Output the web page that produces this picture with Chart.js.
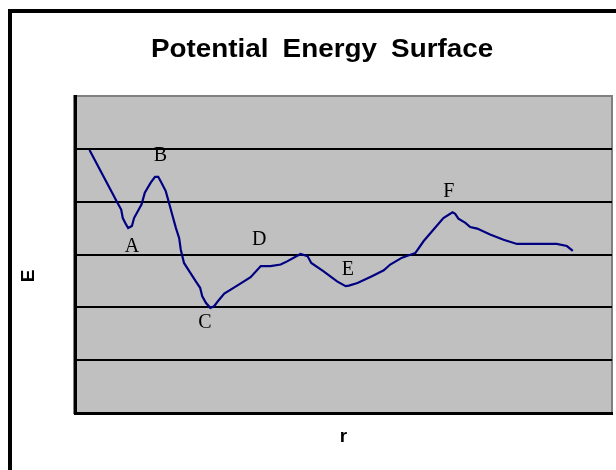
<!DOCTYPE html>
<html>
<head>
<meta charset="utf-8">
<script src="https://cdn.jsdelivr.net/npm/chart.js@4"></script>
<style>
html,body{margin:0;padding:0;background:#fff;}
#c{display:block;}
</style>
</head>
<body>
<canvas id="c" width="616" height="470"></canvas>
<script>
// Reaction coordinate r (arbitrary units, 0..100 across the plot)
const rValues = [2.7, 7.9, 8.6, 8.9, 9.5, 9.9, 10.6, 11.0, 12.4, 13.0, 14.1, 14.9, 15.5, 16.1, 16.9, 17.5, 18.2, 18.8, 19.4, 19.7, 20.3, 21.3, 22.5, 23.3, 23.7, 24.4, 25.2, 25.9, 26.8, 27.8, 30.2, 32.7, 34.6, 36.4, 38.3, 39.5, 42.0, 43.3, 44.0, 46.3, 48.8, 50.4, 51.0, 52.6, 55.3, 57.5, 58.7, 60.9, 63.4, 64.9, 68.6, 70.3, 70.8, 71.4, 72.7, 73.6, 74.9, 77.3, 79.8, 82.3, 89.7, 91.6, 92.7];
// Energy E (arbitrary units, 0..6)
const eValues = [4.98, 3.98, 3.85, 3.69, 3.57, 3.50, 3.54, 3.69, 3.95, 4.17, 4.36, 4.47, 4.47, 4.36, 4.20, 3.98, 3.72, 3.50, 3.31, 3.09, 2.84, 2.68, 2.49, 2.37, 2.21, 2.08, 1.99, 2.02, 2.14, 2.26, 2.41, 2.57, 2.78, 2.78, 2.81, 2.87, 3.01, 2.97, 2.84, 2.68, 2.49, 2.40, 2.41, 2.46, 2.59, 2.70, 2.81, 2.94, 3.03, 3.25, 3.69, 3.80, 3.77, 3.68, 3.60, 3.52, 3.49, 3.38, 3.28, 3.20, 3.20, 3.16, 3.07];
// Point labels on the curve
const pointLabels = ['A', 'B', 'C', 'D', 'E', 'F'];
const pointLabelR = [10.6, 15.9, 24.2, 34.3, 50.8, 69.6];
const pointLabelE = [3.15, 4.86, 1.71, 3.27, 2.72, 4.18];
// Axis range / ticks
const yTicks = [0, 1, 2, 3, 4, 5, 6];
const xMin = 0, xMax = 100;

const titleText = 'Potential Energy Surface';
const xTitle = 'r';
const yTitle = 'E';

const points = rValues.map((r, i) => ({x: r, y: eValues[i]}));

const decor = {
  id: 'decor',
  beforeDraw(chart) {
    const {ctx, chartArea: a} = chart;
    ctx.save();
    ctx.fillStyle = '#ffffff';
    ctx.fillRect(0, 0, chart.width, chart.height);
    // outer frame (left + top)
    ctx.fillStyle = '#000000';
    ctx.fillRect(8, 9, 4, chart.height);
    ctx.fillRect(8, 9, chart.width, 4);
    // plot background
    ctx.fillStyle = '#c0c0c0';
    ctx.fillRect(a.left, a.top, a.right - a.left, a.bottom - a.top);
    ctx.strokeStyle = '#808080';
    ctx.lineWidth = 2;
    ctx.strokeRect(a.left - 1, a.top, a.right - a.left + 1, a.bottom - a.top);
    // title
    ctx.fillStyle = '#000000';
    ctx.font = 'bold 26px "Liberation Sans", Arial, sans-serif';
    ctx.textBaseline = 'alphabetic';
    ctx.textAlign = 'left';
    try { ctx.wordSpacing = '6px'; } catch (e) {}
    ctx.save();
    ctx.translate(151, 57);
    ctx.scale(1.07, 1);
    ctx.fillText(titleText, 0, 0);
    ctx.restore();
    try { ctx.wordSpacing = '0px'; } catch (e) {}
    // axis titles
    ctx.textAlign = 'center';
    ctx.font = 'bold 19px "Liberation Sans", Arial, sans-serif';
    ctx.textBaseline = 'middle';
    ctx.fillText(xTitle, (a.left + a.right) / 2, 437);
    ctx.save();
    ctx.translate(29, 276);
    ctx.rotate(-Math.PI / 2);
    ctx.fillText(yTitle, 0, 0);
    ctx.restore();
    ctx.restore();
  },
  afterDatasetsDraw(chart) {
    const {ctx, scales} = chart;
    ctx.save();
    ctx.fillStyle = '#000000';
    ctx.font = '20px "Liberation Serif", "Times New Roman", serif';
    ctx.textAlign = 'center';
    ctx.textBaseline = 'middle';
    pointLabels.forEach((t, i) => {
      ctx.fillText(t, scales.x.getPixelForValue(pointLabelR[i]), scales.y.getPixelForValue(pointLabelE[i]));
    });
    ctx.restore();
  }
};

new Chart(document.getElementById('c'), {
  type: 'line',
  data: {
    datasets: [{
      data: points,
      borderColor: '#000080',
      borderWidth: 2.2,
      pointRadius: 0,
      tension: 0,
      fill: false
    }]
  },
  options: {
    responsive: false,
    animation: false,
    events: [],
    layout: {padding: {left: 75, top: 96, right: 4, bottom: 57}},
    plugins: {legend: {display: false}, title: {display: false}, tooltip: {enabled: false}},
    scales: {
      x: {
        type: 'linear', min: xMin, max: xMax,
        ticks: {display: false},
        grid: {display: false, drawTicks: false},
        border: {display: true, color: '#000000', width: 3}
      },
      y: {
        type: 'linear', min: yTicks[0], max: yTicks[yTicks.length - 1],
        afterBuildTicks: s => { s.ticks = yTicks.map(v => ({value: v})); },
        ticks: {display: false},
        grid: {
          drawTicks: false,
          color: c => (c.tick && (c.tick.value === 0 || c.tick.value === 6)) ? 'rgba(0,0,0,0)' : '#000000',
          lineWidth: 2
        },
        border: {display: true, color: '#000000', width: 3}
      }
    }
  },
  plugins: [decor]
});
</script>
</body>
</html>
